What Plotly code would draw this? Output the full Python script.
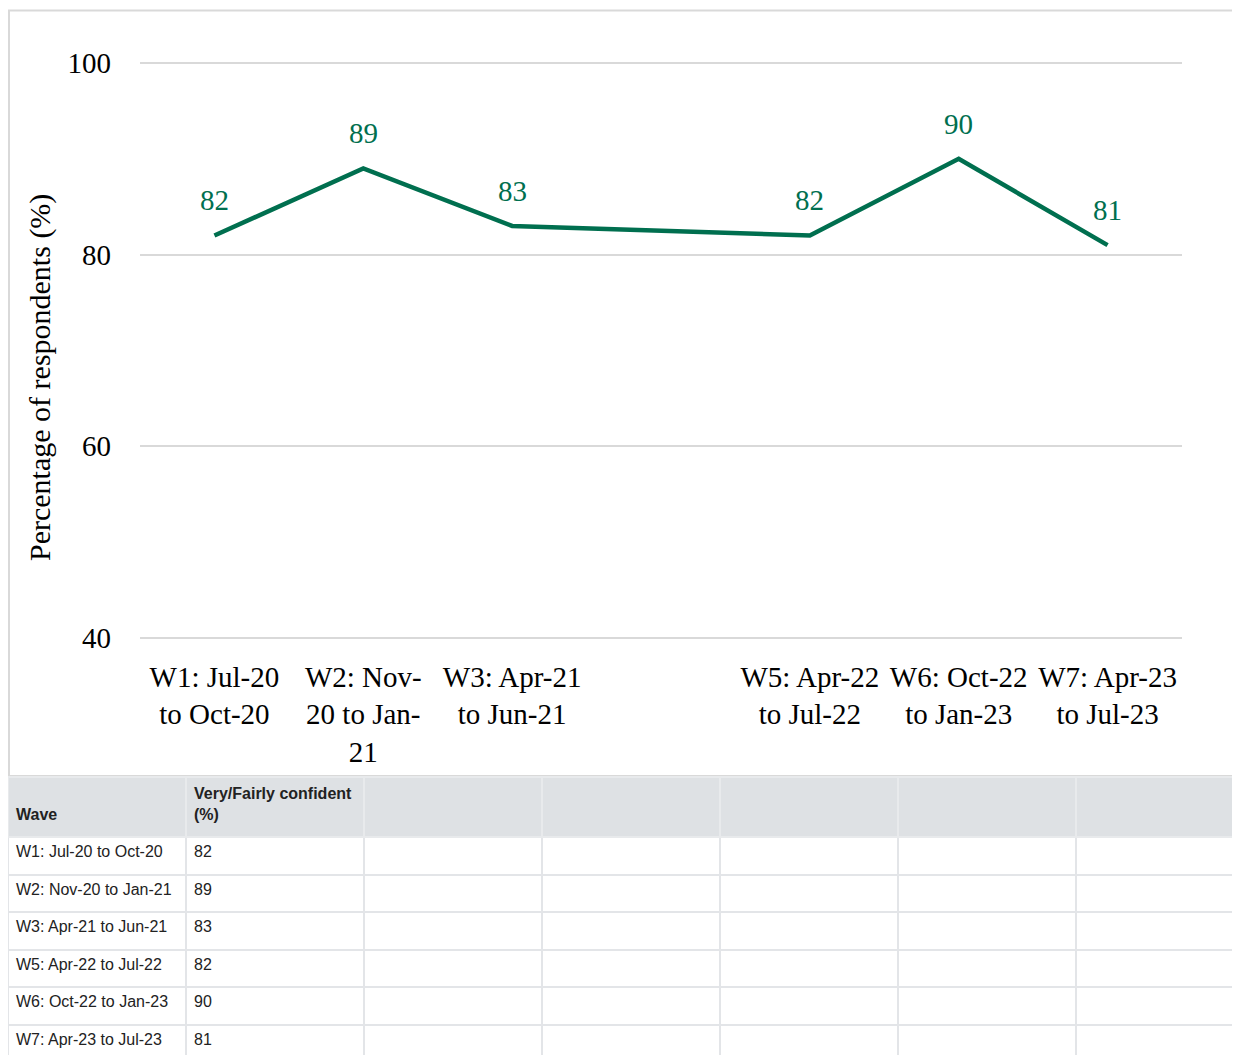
import plotly.graph_objects as go

# ---- data ----
wave_pos = [1, 2, 3, 5, 6, 7]
wave_ticks = ["W1: Jul-20<br>to Oct-20", "W2: Nov-<br>20 to Jan-<br>21", "W3: Apr-21<br>to Jun-21",
              "W5: Apr-22<br>to Jul-22", "W6: Oct-22<br>to Jan-23", "W7: Apr-23<br>to Jul-23"]
wave_names = ["W1: Jul-20 to Oct-20", "W2: Nov-20 to Jan-21", "W3: Apr-21 to Jun-21",
              "W5: Apr-22 to Jul-22", "W6: Oct-22 to Jan-23", "W7: Apr-23 to Jul-23"]
confident = [82, 89, 83, 82, 90, 81]
y_ticks = [40, 60, 80, 100]
table_header = ["\u00a0<br><b>Wave</b>", "<b>Very/Fairly confident<br>(%)</b>", "", "", "", "", ""]

GREEN = "#006f4f"
SERIF = "Liberation Serif, Times New Roman, serif"
SANS = "Liberation Sans, Arial, sans-serif"

# page body has an 8px margin: figure occupies window pixels 8..1240 x 8..1055
OFF = 8
W, H = 1240 - OFF, 1055 - OFF


def px(x):
    return (x - OFF) / W


def py(y):
    return 1 - (y - OFF) / H


fig = go.Figure()
fig.add_trace(go.Scatter(
    x=wave_pos, y=confident, mode="lines",
    line=dict(color=GREEN, width=4.5), hoverinfo="skip", showlegend=False,
))

for xv, yv in zip(wave_pos, confident):
    fig.add_annotation(x=xv, y=yv, text=str(yv), showarrow=False, yshift=35,
                       font=dict(family=SERIF, size=29, color=GREEN))

# table
empty = [""] * len(wave_names)
fig.add_trace(go.Table(
    domain=dict(x=[0, 1], y=[0, py(777)]),
    columnwidth=[178, 178, 178, 178, 178, 178, 164],
    header=dict(values=table_header, fill_color="#dee1e4", align="left", height=60,
                line=dict(color="#e8eaec", width=2),
                font=dict(family=SANS, size=16, color="#222222")),
    cells=dict(values=[wave_names, [str(v) for v in confident]] + [empty] * 5,
               fill_color="white", align="left", height=37.6,
               line=dict(color="#e3e5e8", width=2),
               font=dict(family=SANS, size=16, color="#222222")),
))

# chart border
fig.add_shape(type="rect", xref="paper", yref="paper", x0=px(9), x1=1.01,
              y0=py(776), y1=py(10.5), line=dict(color="#d9d9d9", width=2), layer="below")

fig.add_annotation(text="Percentage of respondents (%)", xref="paper", yref="paper",
                   x=px(40), y=py(378), xanchor="center", yanchor="middle",
                   textangle=-90, showarrow=False,
                   font=dict(family=SERIF, size=30, color="#000000"))

# y: 40 -> 638px, 100 -> 63px ; range padded by 0.5 so edge gridlines render
ppu = (638 - 63) / 60.0
y_lo, y_hi = 39.5, 100.5
y_top_px = 63 - (y_hi - 100) * ppu
y_bot_px = 638 + (40 - y_lo) * ppu

fig.update_layout(
    width=W, height=H, margin=dict(l=0, r=0, t=0, b=0, autoexpand=False),
    paper_bgcolor="white", plot_bgcolor="white",
    xaxis=dict(domain=[px(140), px(1182)], range=[0.5, 7.5], tickvals=wave_pos, ticktext=wave_ticks,
               showgrid=False, zeroline=False, showline=False, ticks="", automargin=False,
               ticklabelstandoff=14, tickangle=0,
               tickfont=dict(family=SERIF, size=29, color="#000000")),
    yaxis=dict(domain=[py(y_bot_px), py(y_top_px)], range=[y_lo, y_hi], tickvals=y_ticks,
               showgrid=True, gridcolor="#d9d9d9", gridwidth=2, zeroline=False, showline=False,
               ticks="", ticklabelstandoff=28, automargin=False,
               tickfont=dict(family=SERIF, size=29, color="#000000")),
)

fig.write_html("out.html")
